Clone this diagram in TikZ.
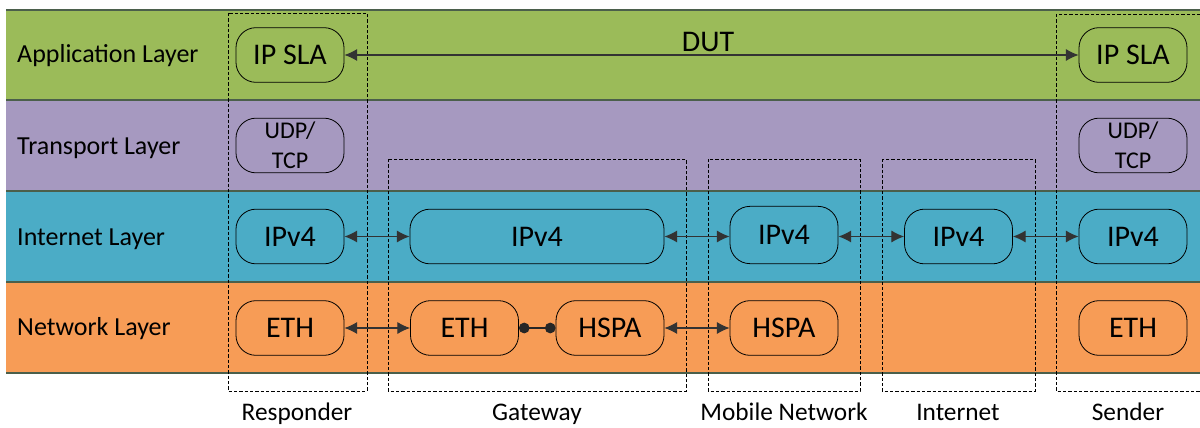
\documentclass[tikz,border=0pt]{standalone}
\usepackage{fontspec}
\setmainfont{Carlito}
\usetikzlibrary{arrows.meta,positioning}
\definecolor{appgreen}{RGB}{155,187,89}
\definecolor{transpurple}{RGB}{166,153,192}
\definecolor{inetblue}{RGB}{75,172,198}
\definecolor{linkorange}{RGB}{247,156,86}
\definecolor{bandline}{RGB}{75,95,75}

\tikzset{
  bandedge/.style={draw=bandline, line width=0.9pt},
  bandlabel/.style={anchor=base west, font=\fontsize{19.5}{23}\selectfont},
  proto/.style={draw, rounded corners=15pt, minimum width=81pt, minimum height=41pt,
    inner sep=0pt, line width=0.6pt, font=\fontsize{22.5}{27}\selectfont},
  hostbox/.style={draw, dashed, dash pattern=on 2.4pt off 1.6pt, line width=0.7pt},
  hostlabel/.style={anchor=base, font=\fontsize{19}{23}\selectfont},
  link/.style={draw=black!80, line width=0.8pt, {Latex[length=9.5pt,width=9pt]}-{Latex[length=9.5pt,width=9pt]}},
  joint/.style={draw=black!85, line width=0.8pt, {Circle[length=8pt]}-{Circle[length=8pt]}}
}

\begin{document}
\begin{tikzpicture}[x=0.75pt, y=-0.75pt]
  \useasboundingbox (0,0) rectangle (1200,428);

  % layers
  \fill[appgreen]    (6,10)  rectangle (1210,100);
  \fill[transpurple] (6,100) rectangle (1210,191);
  \fill[inetblue]    (6,191) rectangle (1210,282);
  \fill[linkorange]  (6,282) rectangle (1210,373);
  \foreach \y in {10,100,191,282,373}
    \draw[bandedge] (6,\y) -- (1210,\y);
  \node[bandlabel] (lapp)  at (12.5,63)  {Application Layer};
  \node[bandlabel] (ltrp)  at (12.5,154) {Transport Layer};
  \node[bandlabel] (linet) at (12.5,245) {Internet Layer};
  \node[bandlabel] (lnet)  at (12.5,335) {Network Layer};

  % hosts
  \draw[hostbox] (228,13)  rectangle (367,391);
  \draw[hostbox] (388,159) rectangle (686,391);
  \draw[hostbox] (708,159) rectangle (860,391);
  \draw[hostbox] (882,159) rectangle (1035,391);
  \draw[hostbox] (1056,14) rectangle (1210,391);
  \node[hostlabel] (hresp) at (297,420)  {Responder};
  \node[hostlabel] (hgw)   at (537,420)  {Gateway};
  \node[hostlabel] (hmob)  at (784,420)  {Mobile Network};
  \node[hostlabel] (hinet) at (958,420)  {Internet};
  \node[hostlabel] (hsend) at (1128,420) {Sender};

  % responder stack
  \node[proto] (slaR) at (290,55)  {IP SLA};
  \node[proto, font=\fontsize{18}{22.5}\selectfont, align=center] (tcpR) at (290,145.5) {UDP/\\TCP};
  \node[proto] (ipR)  at (290,236.5) {IPv4};
  \node[proto] (ethR) at (290,328) {ETH};

  % gateway
  \node[proto, minimum width=190.5pt] (ipG) at (537,236.5) {IPv4};
  \node[proto] (ethG)  at (464.5,328) {ETH};
  \node[proto] (hspaG) at (610,328)   {HSPA};

  % mobile network and internet
  \node[proto, minimum height=43pt] (ipM) at (784,235) {IPv4};
  \node[proto] (hspaM) at (784,328)   {HSPA};
  \node[proto] (ipI)   at (958.5,236.5) {IPv4};

  % sender stack
  \node[proto] (slaS) at (1133,55)  {IP SLA};
  \node[proto, font=\fontsize{18}{22.5}\selectfont, align=center] (tcpS) at (1133,145.5) {UDP/\\TCP};
  \node[proto] (ipS)  at (1133,236.5) {IPv4};
  \node[proto] (ethS) at (1133,328) {ETH};

  % links
  \draw[link] (slaR) -- (slaS);
  \node[anchor=base, font=\fontsize{22.5}{27}\selectfont] (dut) at (708,51.5) {DUT};
  \draw[link] (ipR) -- (ipG);
  \draw[link] (ipG.east) -- (ipM.west |- ipG.east);
  \draw[link] (ipM.east |- ipI.west) -- (ipI.west);
  \draw[link] (ipI) -- (ipS);
  \draw[link] (ethR) -- (ethG);
  \draw[joint] (ethG) -- (hspaG);
  \draw[link] (hspaG) -- (hspaM);
\end{tikzpicture}
\end{document}
